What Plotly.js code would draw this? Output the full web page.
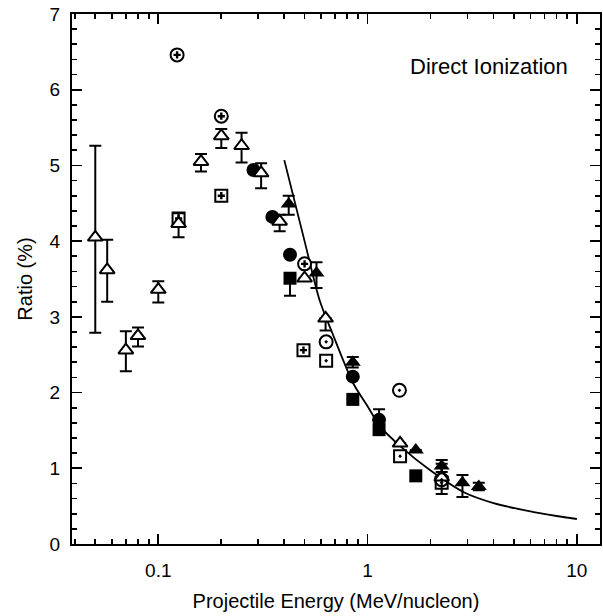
<!DOCTYPE html>
<html>
<head>
<meta charset="utf-8">
<script src="https://cdn.plot.ly/plotly-3.0.1.min.js"></script>
<style>html,body{margin:0;padding:0;background:#fff;}#chart{width:603px;height:616px;}</style>
</head>
<body>
<div id="chart"></div>
<script>
// Open triangles (with error bars)
const openTriX = [0.05, 0.057, 0.07, 0.08, 0.1, 0.125, 0.16, 0.2, 0.25, 0.31, 0.38, 0.5, 0.63, 1.43, 2.26];
const openTriY = [4.05, 3.62, 2.56, 2.75, 3.36, 4.23, 5.05, 5.39, 5.26, 4.90, 4.26, 3.51, 2.98, 1.33, 0.88];
const openTriErrUp = [1.21, 0.40, 0.25, 0.11, 0.11, 0.14, 0.10, 0.09, 0.17, 0.13, 0.09, 0, 0, 0, 0.18];
const openTriErrDn = [1.26, 0.42, 0.28, 0.14, 0.17, 0.18, 0.13, 0.16, 0.22, 0.20, 0.13, 0, 0.16, 0, 0.22];

// Filled triangles
const fillTriX = [0.42, 0.57, 0.85, 1.7, 2.26, 2.84, 3.4];
const fillTriY = [4.49, 3.58, 2.40, 1.24, 1.03, 0.81, 0.76];
const fillTriErrUp = [0.11, 0.14, 0.07, 0, 0.08, 0.10, 0.05];
const fillTriErrDn = [0.14, 0.20, 0.07, 0, 0.08, 0.19, 0.05];

// Filled circles
const fillCircX = [0.285, 0.351, 0.426, 0.85, 1.135];
const fillCircY = [4.94, 4.32, 3.82, 2.21, 1.64];
const fillCircErrUp = [0, 0, 0, 0, 0.14];
const fillCircErrDn = [0, 0, 0, 0, 0];

// Filled squares
const fillSqX = [0.426, 0.85, 1.135, 1.70];
const fillSqY = [3.51, 1.91, 1.51, 0.90];
const fillSqErrUp = [0, 0, 0, 0];
const fillSqErrDn = [0.23, 0, 0, 0];

// Circle with plus
const circPlusX = [0.123, 0.2, 0.5];
const circPlusY = [6.46, 5.65, 3.70];

// Square with plus
const sqPlusX = [0.125, 0.2, 0.494];
const sqPlusY = [4.30, 4.60, 2.56];

// Circle with dot
const circDotX = [0.634, 1.42, 2.26];
const circDotY = [2.67, 2.03, 0.85];

// Square with dot
const sqDotX = [0.634, 1.43, 2.26];
const sqDotY = [2.42, 1.16, 0.81];

// Theory curve
const curveX = [0.40, 0.5, 0.59, 0.68, 0.855, 1.0, 1.15, 1.45, 2.0, 2.9, 4.0, 6.0, 8.0, 10];
const curveY = [5.07, 4.0, 3.22, 2.78, 2.12, 1.82, 1.55, 1.28, 0.97, 0.68, 0.54, 0.43, 0.37, 0.33];

const xMinor = [0.04,0.05,0.06,0.07,0.08,0.09,0.2,0.3,0.4,0.5,0.6,0.7,0.8,0.9,2,3,4,5,6,7,8,9];

const FONT = 'Liberation Sans, Arial, Helvetica, sans-serif';

function errs(up, dn){
  return {type:'data', symmetric:false, array:up, arrayminus:dn, color:'#000', thickness:2, width:6};
}

const traces = [
  {x: curveX, y: curveY, mode:'lines', line:{color:'#000', width:1.8, shape:'spline', smoothing:0.8}, hoverinfo:'skip'},
  {x: fillCircX, y: fillCircY, mode:'markers', marker:{symbol:'circle', size:14, color:'#000'}, error_y: errs(fillCircErrUp, fillCircErrDn)},
  {x: fillSqX, y: fillSqY, mode:'markers', marker:{symbol:'square', size:13, color:'#000'}, error_y: errs(fillSqErrUp, fillSqErrDn)},
  {x: sqPlusX, y: sqPlusY, mode:'markers', marker:{symbol:'square', size:12, color:'#fff', line:{color:'#000', width:2}}},
  {x: sqPlusX, y: sqPlusY, mode:'markers', marker:{symbol:'cross', size:6, color:'#000', line:{width:0}}},
  {x: sqDotX, y: sqDotY, mode:'markers', marker:{symbol:'square-open-dot', size:12, color:'#000', line:{color:'#000', width:2}}},
  {x: openTriX, y: openTriY, mode:'markers', marker:{symbol:'triangle-up', size:13, color:'#fff', line:{color:'#000', width:2}}, error_y: errs(openTriErrUp, openTriErrDn)},
  {x: circPlusX, y: circPlusY, mode:'markers', marker:{symbol:'circle', size:13, color:'#fff', line:{color:'#000', width:2}}},
  {x: circPlusX, y: circPlusY, mode:'markers', marker:{symbol:'cross', size:6, color:'#000', line:{width:0}}},
  {x: circDotX, y: circDotY, mode:'markers', marker:{symbol:'circle-open-dot', size:13, color:'#000', line:{color:'#000', width:2}}},
  {x: fillTriX, y: fillTriY, mode:'markers', marker:{symbol:'triangle-up', size:14, color:'#000'}, error_y: errs(fillTriErrUp, fillTriErrDn)}
];

const axisCommon = {
  showline:true, linecolor:'#000', linewidth:2, mirror:'ticks',
  ticks:'inside', ticklen:10, tickwidth:1.6, tickcolor:'#000',
  showgrid:false, zeroline:false,
  tickfont:{family:FONT, size:19, color:'#000'}
};

const layout = {
  width:603, height:616,
  margin:{l:72, r:3, t:14, b:72},
  paper_bgcolor:'#fff', plot_bgcolor:'#fff',
  showlegend:false,
  font:{family:FONT, color:'#000'},
  xaxis: Object.assign({}, axisCommon, {
    type:'log', range:[Math.log10(0.0387), Math.log10(12.9)],
    tickmode:'array', tickvals:[0.1,1,10], ticktext:['0.1','1','10'],
    ticklabelstandoff:8,
    minor:{tickmode:'array', tickvals:xMinor, ticks:'inside', ticklen:5, tickwidth:1.6, tickcolor:'#000', showgrid:false},
    title:{text:'Projectile Energy (MeV/nucleon)', font:{family:FONT, size:20, color:'#000'}, standoff:14}
  }),
  yaxis: Object.assign({}, axisCommon, {
    range:[0,7], dtick:1, tick0:0,
    ticklabelstandoff:6,
    minor:{dtick:0.2, ticks:'inside', ticklen:5, tickwidth:1.6, tickcolor:'#000', showgrid:false},
    title:{text:'Ratio (%)', font:{family:FONT, size:20, color:'#000'}, standoff:12}
  }),
  annotations:[
    {text:'Direct Ionization', xref:'paper', yref:'paper', x:0.789, y:0.901, xanchor:'center', yanchor:'middle', showarrow:false, font:{family:FONT, size:22, color:'#000'}}
  ]
};

Plotly.newPlot('chart', traces, layout, {displayModeBar:false, staticPlot:true});
</script>
</body>
</html>
